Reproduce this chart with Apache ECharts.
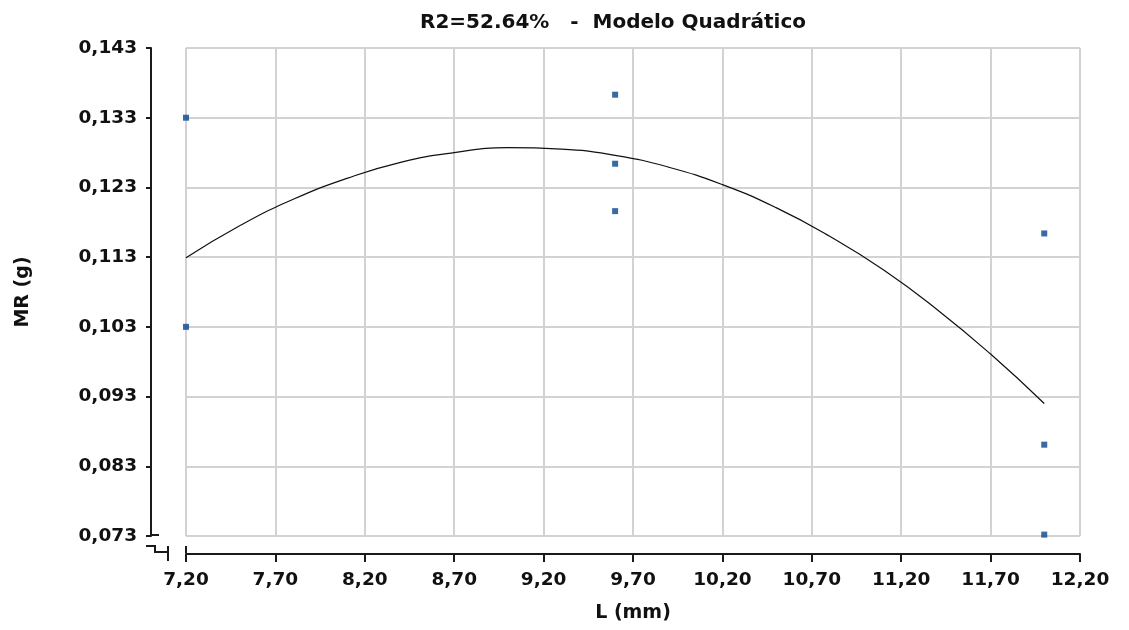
<!DOCTYPE html>
<html>
<head>
<meta charset="utf-8">
<script src="https://cdn.jsdelivr.net/npm/echarts@6/dist/echarts.min.js"></script>
<style>html,body{margin:0;padding:0;background:#fff;}#c{width:1129px;height:630px;}</style>
</head>
<body>
<div id="c"></div>
<script>
// Observed data (L in mm, MR in g)
const obsL  = [7.2, 7.2, 9.6, 9.6, 9.6, 12.0, 12.0, 12.0];
const obsMR = [0.1330, 0.1030, 0.1363, 0.1264, 0.1196, 0.1164, 0.0861, 0.0732];
// Fitted quadratic curve
const fitL  = [7.2, 7.5, 7.8, 8.1, 8.4, 8.7, 9.0, 9.3, 9.6, 9.9, 10.2, 10.5, 10.8, 11.1, 11.4, 11.7, 12.0];
const fitMR = [0.1129, 0.1175, 0.1213, 0.1243, 0.1266, 0.1280, 0.1287, 0.1285, 0.1276, 0.1259, 0.1234, 0.1201, 0.1160, 0.1112, 0.1055, 0.0991, 0.0920];
// Axis ticks
const xTicks = [7.2, 7.7, 8.2, 8.7, 9.2, 9.7, 10.2, 10.7, 11.2, 11.7, 12.2];
const yTicks = [0.073, 0.083, 0.093, 0.103, 0.113, 0.123, 0.133, 0.143];
const titleText = 'R2=52.64%   -  Modelo Quadrático';

const fmt = v => v.toFixed(v < 1 ? 3 : 2).replace('.', ',');
const FONT = 'DejaVu Sans';
const axisCol = '#1a1a1a';
const gridCol = '#d2d2d2';

const chart = echarts.init(document.getElementById('c'), null, {renderer: 'canvas'});
chart.setOption({
  animation: false,
  backgroundColor: '#fff',
  title: {
    text: titleText, left: 608, top: 8, textAlign: 'center',
    textStyle: {fontFamily: FONT, fontSize: 20, fontWeight: 'bold', color: '#111'}
  },
  grid: {left: 186, right: 49, top: 48, bottom: 94, containLabel: false},
  xAxis: {
    type: 'value', min: xTicks[0], max: xTicks[xTicks.length - 1], interval: 0.5,
    offset: 18,
    name: 'L (mm)', nameLocation: 'middle', nameGap: 50,
    nameTextStyle: {fontFamily: FONT, fontSize: 19, fontWeight: 'bold', color: '#111'},
    axisLine: {show: true, lineStyle: {color: axisCol, width: 2}},
    axisTick: {show: true, length: 8, lineStyle: {color: axisCol, width: 2}},
    axisLabel: {margin: 17, fontFamily: FONT, fontSize: 18.5, fontWeight: 'bold', color: '#111', formatter: v => fmt(v)},
    splitLine: {show: true, lineStyle: {color: gridCol, width: 2}}
  },
  yAxis: {
    type: 'value', min: yTicks[0], max: yTicks[yTicks.length - 1], interval: 0.01,
    offset: 35,
    name: 'MR (g)', nameLocation: 'middle', nameGap: 118, nameRotate: 90,
    nameTextStyle: {fontFamily: FONT, fontSize: 19, fontWeight: 'bold', color: '#111'},
    axisLine: {show: true, lineStyle: {color: axisCol, width: 2}},
    axisTick: {show: true, length: 5, lineStyle: {color: axisCol, width: 2}},
    axisLabel: {margin: 14, fontFamily: FONT, fontSize: 18.5, fontWeight: 'bold', color: '#111', formatter: v => fmt(v)},
    splitLine: {show: true, lineStyle: {color: gridCol, width: 2}}
  },
  series: [
    {
      type: 'line', data: fitL.map((x, i) => [x, fitMR[i]]),
      smooth: true, symbol: 'none', lineStyle: {color: '#111', width: 1.2}, z: 2
    },
    {
      type: 'scatter', data: obsL.map((x, i) => [x, obsMR[i]]),
      symbol: 'rect', symbolSize: 6, itemStyle: {color: '#08468a'}, z: 3
    }
  ],
  graphic: [
    {type: 'line', shape: {x1: 151, y1: 535, x2: 159, y2: 535}, style: {stroke: axisCol, lineWidth: 2}},
    {type: 'polyline', shape: {points: [[146, 546], [155, 546], [155, 552], [168, 552]]}, style: {stroke: axisCol, lineWidth: 2, fill: null}},
    {type: 'line', shape: {x1: 168, y1: 546, x2: 168, y2: 561}, style: {stroke: axisCol, lineWidth: 2}},
    {type: 'line', shape: {x1: 186, y1: 546, x2: 186, y2: 553}, style: {stroke: axisCol, lineWidth: 2}}
  ]
});
</script>
</body>
</html>
